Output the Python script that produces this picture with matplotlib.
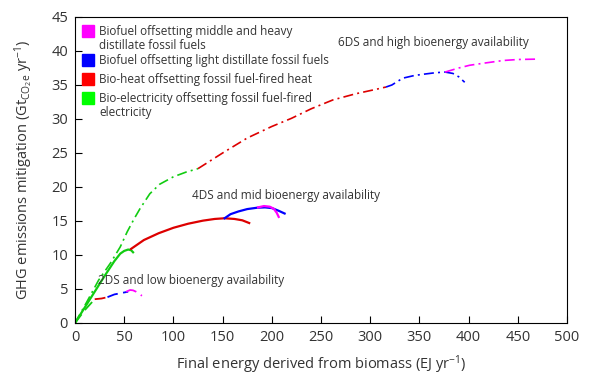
import matplotlib
matplotlib.use('Agg')
import matplotlib.pyplot as plt

plt.rcParams['font.family'] = ['Open Sans', 'DejaVu Sans']
plt.rcParams['mathtext.default'] = 'regular'

# colours
MAG = '#ff00ff'
BLUE = '#0000ff'
RED = '#dd0000'
GREEN = '#11cc11'

# ---- 2DS, low bioenergy availability (dashed) ----
ds2_green_x = [0, 10, 20]
ds2_green_y = [0, 1.9, 3.5]
ds2_red_x = [20, 27, 33]
ds2_red_y = [3.5, 3.6, 3.8]
ds2_blue_x = [33, 40, 47, 54]
ds2_blue_y = [3.8, 4.2, 4.4, 4.6]
ds2_mag_x = [52, 56, 59, 62, 65, 68]
ds2_mag_y = [4.6, 4.85, 4.8, 4.6, 4.3, 4.0]

# ---- 4DS, mid bioenergy availability (solid) ----
ds4_green_x = [0, 10, 20, 30, 40, 46, 50, 54, 57, 59]
ds4_green_y = [0, 2.3, 4.6, 6.9, 9.1, 10.2, 10.6, 10.8, 10.7, 10.4]
ds4_red_x = [57, 70, 85, 100, 115, 130, 142, 152, 162, 170, 177]
ds4_red_y = [10.9, 12.2, 13.2, 14.0, 14.6, 15.05, 15.3, 15.4, 15.3, 15.1, 14.7]
ds4_blue_x = [152, 158, 166, 175, 185, 193, 200, 207, 213]
ds4_blue_y = [15.4, 16.0, 16.4, 16.75, 16.95, 17.0, 16.9, 16.5, 16.1]
ds4_mag_x = [186, 192, 198, 202, 205, 207]
ds4_mag_y = [17.0, 17.2, 17.1, 16.8, 16.2, 15.6]

# ---- 6DS, high bioenergy availability (dash-dot) ----
ds6_green_x = [0, 12, 24, 36, 46, 53, 60, 66, 76, 86, 100, 113, 125]
ds6_green_y = [0, 3.1, 6.3, 8.8, 11.2, 13.4, 15.3, 16.8, 19.0, 20.4, 21.5, 22.2, 22.7]
ds6_red_x = [125, 150, 175, 200, 220, 240, 262, 285, 307, 316]
ds6_red_y = [22.7, 25.0, 27.2, 28.9, 30.1, 31.5, 32.8, 33.7, 34.4, 34.7]
ds6_blue_x = [316, 322, 333, 345, 355, 366, 376, 384, 390, 396]
ds6_blue_y = [34.7, 35.0, 36.0, 36.4, 36.6, 36.8, 36.9, 36.7, 36.2, 35.4]
ds6_mag_x = [376, 390, 401, 415, 435, 450, 468]
ds6_mag_y = [36.9, 37.5, 37.9, 38.2, 38.6, 38.75, 38.8]

legend_colors = [MAG, BLUE, '#ff0000', '#00ff00']
legend_labels = [
    ['Biofuel offsetting middle and heavy', 'distillate fossil fuels'],
    ['Biofuel offsetting light distillate fossil fuels'],
    ['Bio-heat offsetting fossil fuel-fired heat'],
    ['Bio-electricity offsetting fossil fuel-fired', 'electricity'],
]

fig = plt.figure(figsize=(5.93, 3.76), dpi=100)
ax = fig.add_axes([0.1265, 0.141, 0.8297, 0.8138])

# 2DS
dash = (0, (6, 3))
ax.plot(ds2_green_x, ds2_green_y, color=GREEN, lw=1.3, linestyle=dash)
ax.plot(ds2_red_x, ds2_red_y, color=RED, lw=1.3, linestyle=dash)
ax.plot(ds2_blue_x, ds2_blue_y, color=BLUE, lw=1.3, linestyle=dash)
ax.plot(ds2_mag_x, ds2_mag_y, color=MAG, lw=1.3, linestyle=dash)

# 6DS
dd = (0, (6, 2.5, 1.2, 2.5))
ax.plot(ds6_green_x, ds6_green_y, color=GREEN, lw=1.2, linestyle=dd)
ax.plot(ds6_red_x, ds6_red_y, color=RED, lw=1.2, linestyle=dd)
ax.plot(ds6_blue_x, ds6_blue_y, color=BLUE, lw=1.2, linestyle=dd)
ax.plot(ds6_mag_x, ds6_mag_y, color=MAG, lw=1.2, linestyle=dd)

# 4DS
ax.plot(ds4_green_x, ds4_green_y, color=GREEN, lw=1.6)
ax.plot(ds4_red_x, ds4_red_y, color=RED, lw=1.6)
ax.plot(ds4_blue_x, ds4_blue_y, color=BLUE, lw=1.6)
ax.plot(ds4_mag_x, ds4_mag_y, color=MAG, lw=1.6)

# scenario labels
ax.text(118, 6.2, '2DS and low bioenergy availability', fontsize=8.5,
        ha='center', va='center', color='#333333')
ax.text(214.5, 18.7, '4DS and mid bioenergy availability', fontsize=8.5,
        ha='center', va='center', color='#333333')
ax.text(364, 41.2, '6DS and high bioenergy availability', fontsize=8.5,
        ha='center', va='center', color='#333333')

# legend drawn by hand (squares aligned with first text line)
row_y = [0.953, 0.858, 0.797, 0.735]
line_step = 0.046
for c, lines, y in zip(legend_colors, legend_labels, row_y):
    ax.plot([0.0264], [y], marker='s', markersize=8, color=c, linestyle='none',
            transform=ax.transAxes, clip_on=False)
    for i, t in enumerate(lines):
        ax.text(0.0488, y - i * line_step, t, fontsize=8.5, va='center', ha='left',
                transform=ax.transAxes, color='#333333')

ax.set_xlim(0, 500)
ax.set_ylim(0, 45)
ax.set_xticks(range(0, 501, 50))
ax.set_yticks(range(0, 46, 5))
ax.tick_params(direction='in', length=5, width=0.8, labelsize=10.5,
               top=False, right=False, pad=5, labelcolor='#333333')
for s in ax.spines.values():
    s.set_linewidth(0.8)

ax.set_xlabel('Final energy derived from biomass (EJ yr$^{-1}$)', fontsize=10.5,
              color='#333333', labelpad=6)
ax.set_ylabel('GHG emissions mitigation (Gt$_{CO_{2}e}$ yr$^{-1}$)', fontsize=10.5,
              color='#333333', labelpad=12)

fig.savefig('out.png', dpi=100)
